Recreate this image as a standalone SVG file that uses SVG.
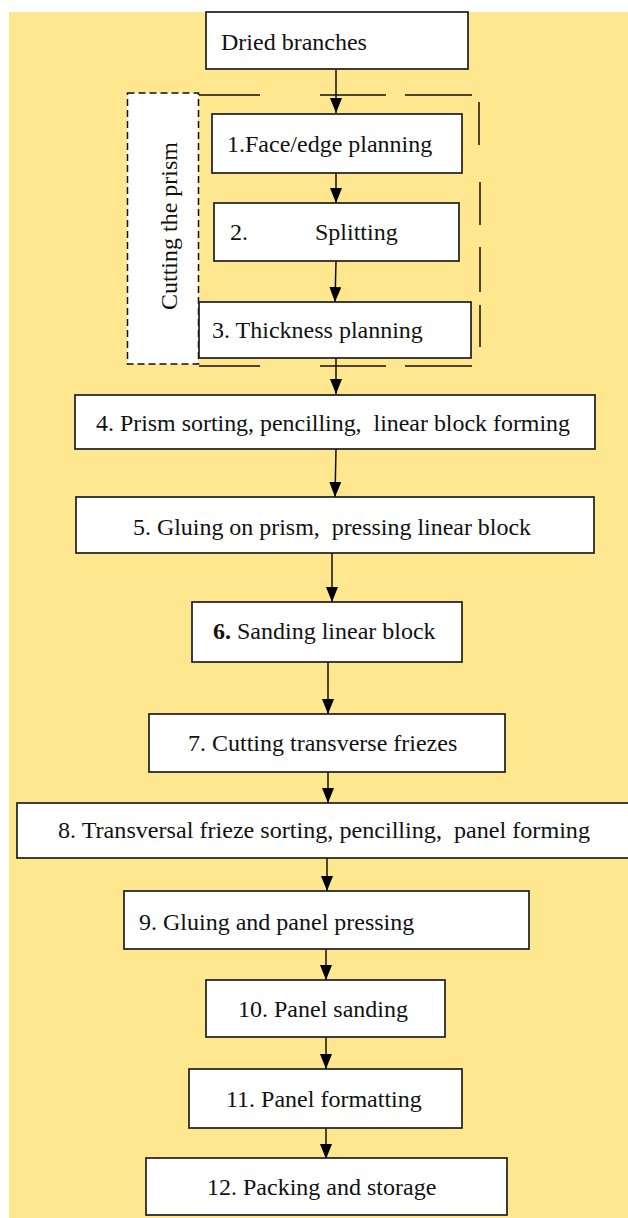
<svg xmlns="http://www.w3.org/2000/svg" width="628" height="1218" viewBox="0 0 628 1218">
<defs>
<style>
.box{fill:#fff;stroke:#1e1e1e;stroke-width:1.7}
.t{font-family:"Liberation Serif","Times New Roman",serif;font-size:24px;fill:#111;white-space:pre}
.c{stroke:#111;stroke-width:1.5;fill:none}
.ld{stroke:#111;stroke-width:1.5;fill:none}
</style>
<marker id="ah" markerUnits="userSpaceOnUse" markerWidth="16" markerHeight="14" refX="15" refY="6" orient="auto">
<path d="M0,0 L15,6 L0,12 Z" fill="#000"/>
</marker>
</defs>
<rect x="9" y="12" width="619" height="1206" fill="#FEE78E"/>

<g id="prism-group">
<g id="long-dash" class="ld">
<line x1="199" y1="95" x2="260" y2="95"/>
<line x1="320" y1="95" x2="386" y2="95"/>
<line x1="405" y1="95" x2="472" y2="95"/>
<line x1="479" y1="102" x2="479" y2="145"/>
<line x1="480" y1="182" x2="480" y2="225"/>
<line x1="480" y1="247" x2="480" y2="292"/>
<line x1="480" y1="305" x2="480" y2="347"/>
<line x1="199" y1="366" x2="260" y2="366"/>
<line x1="320" y1="366" x2="386" y2="366"/>
<line x1="405" y1="366" x2="472" y2="366"/>
</g>
<g id="cutting-label">
<rect x="127.5" y="93" width="71" height="271" fill="#fff" stroke="#111" stroke-width="1.5" stroke-dasharray="7 4"/>
<text class="t" transform="translate(177,226) rotate(-90)" text-anchor="middle">Cutting the prism</text>
</g>
</g>

<g id="connectors">
<line class="c" x1="336" y1="70" x2="336" y2="113" marker-end="url(#ah)"/>
<line class="c" x1="336" y1="173" x2="336" y2="203" marker-end="url(#ah)"/>
<line class="c" x1="336" y1="261" x2="335" y2="302" marker-end="url(#ah)"/>
<line class="c" x1="336" y1="358" x2="336" y2="394" marker-end="url(#ah)"/>
<line class="c" x1="336" y1="449" x2="335" y2="497" marker-end="url(#ah)"/>
<line class="c" x1="332" y1="553" x2="332" y2="602" marker-end="url(#ah)"/>
<line class="c" x1="328" y1="662" x2="328" y2="714" marker-end="url(#ah)"/>
<line class="c" x1="328" y1="772" x2="328" y2="803" marker-end="url(#ah)"/>
<line class="c" x1="327" y1="858" x2="327" y2="891" marker-end="url(#ah)"/>
<line class="c" x1="326" y1="949" x2="326" y2="980" marker-end="url(#ah)"/>
<line class="c" x1="326" y1="1037" x2="326" y2="1069" marker-end="url(#ah)"/>
<line class="c" x1="326" y1="1128" x2="326" y2="1159" marker-end="url(#ah)"/>
</g>

<g id="n0"><rect class="box" x="206" y="12" width="262" height="57"/><text class="t" x="221" y="50">Dried branches</text></g>
<g id="n1"><rect class="box" x="212" y="114" width="250" height="59"/><text class="t" x="227" y="152">1.Face/edge planning</text></g>
<g id="n2"><rect class="box" x="214" y="203" width="245" height="58"/><text class="t" x="230" y="240">2.</text><text class="t" x="315" y="240">Splitting</text></g>
<g id="n3"><rect class="box" x="199" y="302" width="272" height="56"/><text class="t" x="212" y="338">3. Thickness planning</text></g>
<g id="n4"><rect class="box" x="75" y="395" width="520" height="54"/><text class="t" x="96" y="431" textLength="474" lengthAdjust="spacingAndGlyphs">4. Prism sorting, pencilling,  linear block forming</text></g>
<g id="n5"><rect class="box" x="76" y="497" width="518" height="56"/><text class="t" x="133" y="535" textLength="398" lengthAdjust="spacingAndGlyphs">5. Gluing on prism,  pressing linear block</text></g>
<g id="n6"><rect class="box" x="192" y="602" width="270" height="60"/><text class="t" x="213" y="639"><tspan font-weight="bold">6.</tspan> Sanding linear block</text></g>
<g id="n7"><rect class="box" x="149" y="714" width="356" height="58"/><text class="t" x="188" y="751">7. Cutting transverse friezes</text></g>
<g id="n8"><rect class="box" x="17" y="803" width="620" height="55"/><text class="t" x="58" y="838" textLength="532" lengthAdjust="spacingAndGlyphs">8. Transversal frieze sorting, pencilling,  panel forming</text></g>
<g id="n9"><rect class="box" x="124" y="891" width="405" height="58"/><text class="t" x="139" y="930">9. Gluing and panel pressing</text></g>
<g id="n10"><rect class="box" x="206" y="980" width="239" height="57"/><text class="t" x="238" y="1017">10. Panel sanding</text></g>
<g id="n11"><rect class="box" x="189" y="1069" width="273" height="59"/><text class="t" x="226" y="1107">11. Panel formatting</text></g>
<g id="n12"><rect class="box" x="146" y="1158" width="361" height="57"/><text class="t" x="207" y="1195">12. Packing and storage</text></g>
</svg>
